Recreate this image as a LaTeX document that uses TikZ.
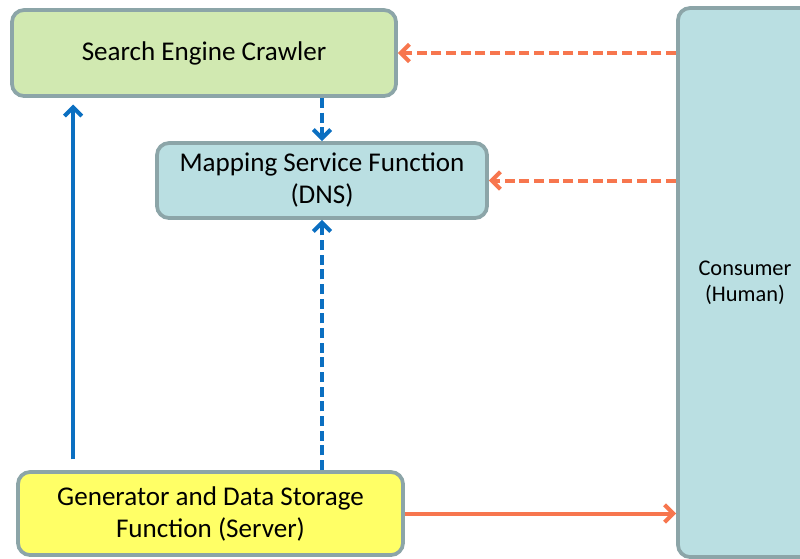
\documentclass[tikz,border=0pt]{standalone}
\usepackage{fontspec}
\setmainfont{Carlito}
\usetikzlibrary{arrows.meta}

\definecolor{crawlergreen}{HTML}{D1E9B1}
\definecolor{mapblue}{HTML}{BADFE2}
\definecolor{serveryellow}{HTML}{FFFF66}
\definecolor{edgegray}{HTML}{8CA5A8}
\definecolor{reqorange}{HTML}{F7764E}
\definecolor{pubblue}{HTML}{0B6FC1}

\begin{document}
\begin{tikzpicture}[x=0.75pt,y=-0.75pt,
    box/.style={draw=edgegray,line width=2.8pt,rounded corners=9pt,align=center,
        font=\fontsize{20.3}{24}\selectfont},
    publine/.style={draw=pubblue,line width=3pt,-{Straight Barb[length=6.5pt,width=13pt]}},
    reqline/.style={draw=reqorange,line width=3pt,-{Straight Barb[length=6.5pt,width=13pt]}},
    dashline/.style={dash pattern=on 7.5pt off 3.5pt}]
    \useasboundingbox (0,0) rectangle (800,558);
    \clip (0,0) rectangle (800,558);

    % Boxes
    \node[box,fill=crawlergreen,minimum width=288pt,minimum height=64.5pt] (crawler) at (204,53) {Search Engine Crawler};
    \node[box,fill=mapblue,minimum width=247.5pt,minimum height=56.25pt] (map) at (322,180.5) {Mapping Service Function\\(DNS)};
    \node[box,fill=serveryellow,minimum width=288.75pt,minimum height=62.25pt] (gen) at (210.5,513.5) {Generator and Data Storage\\Function (Server)};
    \node[box,fill=mapblue,minimum width=100.5pt,minimum height=411.75pt,
        font=\fontsize{16.8}{19.5}\selectfont] (cons) at (745,282.5) {Consumer\\(Human)};

    % Server side (blue)
    \coordinate (up) at ([xshift=42.75pt]gen.north west);
    \draw[publine,shorten <=8pt,shorten >=5pt] (up) -- (up |- crawler.south);
    \draw[publine,dashline] (map.north |- crawler.south) -- (map.north);
    \draw[publine,dashline] (map.south |- gen.north) -- (map.south);

    % Consumer side (orange)
    \draw[reqline,dashline] (cons.west |- crawler.east) -- (crawler.east);
    \draw[reqline,dashline] (cons.west |- map.east) -- (map.east);
    \draw[reqline] (gen.east) -- (gen.east -| cons.west);
\end{tikzpicture}
\end{document}
